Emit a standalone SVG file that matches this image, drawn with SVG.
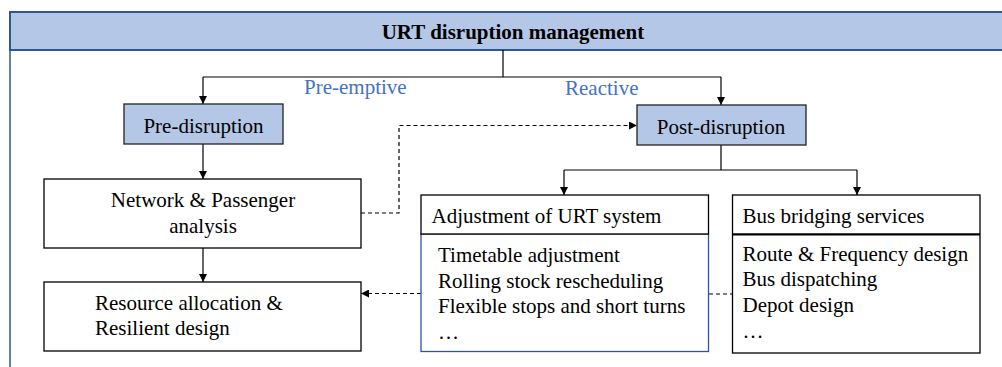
<svg xmlns="http://www.w3.org/2000/svg" width="1002" height="367" viewBox="0 0 1002 367">
<style>
text{font-family:"Liberation Serif","Times New Roman",serif;font-size:21px;fill:#000}
.b{font-weight:bold}
.blue{fill:#4472C4}
.box{fill:#fff;stroke:#000;stroke-width:1.3}
.hl{fill:#B4C7E7;stroke:#222;stroke-width:1.3}
.ln{fill:none;stroke:#000;stroke-width:1.2}
.dash{fill:none;stroke:#000;stroke-width:1.2;stroke-dasharray:4 3}
</style>
<defs>
<marker id="ah" viewBox="0 0 10 10" refX="10" refY="5" markerWidth="8" markerHeight="8" markerUnits="userSpaceOnUse" orient="auto">
<path d="M0,0 L10,5 L0,10 z" fill="#000"/>
</marker>
</defs>
<g id="frame">
<rect x="10" y="12" width="1000" height="38" fill="#B4C7E7" stroke="#2F5597" stroke-width="2"/>
<line x1="10" y1="50" x2="10" y2="367" stroke="#2F5597" stroke-width="1.5"/>
<text class="b" x="513" y="39" text-anchor="middle">URT disruption management</text>
</g>
<g id="connectors">
<path class="ln" d="M503,50 V77"/>
<path class="ln" d="M203,77 H721"/>
<path class="ln" d="M203,77 V104" marker-end="url(#ah)"/>
<path class="ln" d="M721,77 V105" marker-end="url(#ah)"/>
<path class="ln" d="M203,144 V179" marker-end="url(#ah)"/>
<path class="ln" d="M203,248 V282" marker-end="url(#ah)"/>
<path class="ln" d="M721,145 V170 M564,170 H857"/>
<path class="ln" d="M564,170 V195" marker-end="url(#ah)"/>
<path class="ln" d="M857,170 V195" marker-end="url(#ah)"/>
<path class="dash" d="M361,213 H399 V125.5 H637" marker-end="url(#ah)"/>
<path class="dash" d="M421,293.5 H361" marker-end="url(#ah)"/>
<path class="dash" d="M709,294 H732"/>
<text class="blue" x="304" y="93.5">Pre-emptive</text>
<text class="blue" x="565" y="94.5">Reactive</text>
</g>
<g id="pre-disruption">
<rect class="hl" x="124" y="104" width="159" height="40"/>
<text x="203.5" y="133" text-anchor="middle">Pre-disruption</text>
</g>
<g id="post-disruption">
<rect class="hl" x="637" y="105" width="169" height="40"/>
<text x="721" y="133.5" text-anchor="middle">Post-disruption</text>
</g>
<g id="network-analysis">
<rect class="box" x="44" y="179" width="317" height="69"/>
<text x="203" y="207" text-anchor="middle">Network &amp; Passenger</text>
<text x="203" y="233" text-anchor="middle">analysis</text>
</g>
<g id="resource-allocation">
<rect class="box" x="44" y="282" width="317" height="69"/>
<text x="95" y="310">Resource allocation &amp;</text>
<text x="95" y="335">Resilient design</text>
</g>
<g id="adjustment-urt">
<rect x="421" y="234" width="287.5" height="117.5" fill="#fff" stroke="#2F5597" stroke-width="1.3"/>
<rect class="box" x="421" y="195" width="287.5" height="39"/>
<text x="431.5" y="223">Adjustment of URT system</text>
<text x="438" y="262">Timetable adjustment</text>
<text x="438" y="287.5">Rolling stock rescheduling</text>
<text x="438" y="313">Flexible stops and short turns</text>
<text x="438" y="339">…</text>
</g>
<g id="bus-bridging">
<rect class="box" x="732.5" y="195" width="247.5" height="158"/>
<line x1="732.5" y1="234.3" x2="980" y2="234.3" stroke="#000" stroke-width="2.2"/>
<text x="742.5" y="223">Bus bridging services</text>
<text x="742.5" y="261">Route &amp; Frequency design</text>
<text x="742.5" y="286">Bus dispatching</text>
<text x="742.5" y="311.5">Depot design</text>
<text x="742.5" y="338">…</text>
</g>
</svg>
